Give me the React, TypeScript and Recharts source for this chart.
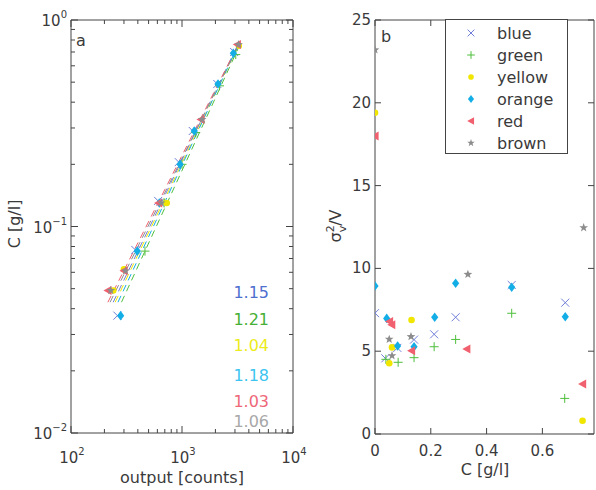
import React from 'react';
import { ScatterChart, Scatter, XAxis, YAxis } from 'recharts';

const FONT = '"DejaVu Sans", Verdana, sans-serif';
const INK = '#3a3a3a';
const AXIS = '#444444';

const seriesNames = ['blue', 'green', 'yellow', 'orange', 'red', 'brown'];
const markerColors: Record<string, string> = {
  blue: '#6f7ed8', green: '#4fbf3c', yellow: '#f0e600', orange: '#14aee6', red: '#f0606e', brown: '#8c8c8c',
};
const slopeColors: Record<string, string> = {
  blue: '#4f6fcf', green: '#45b035', yellow: '#ecec1c', orange: '#3cc4f0', red: '#ee6878', brown: '#a8a8a8',
};
const slopeLabels = ['1.15', '1.21', '1.04', '1.18', '1.03', '1.06'];

// ---------- Panel a : output [counts] vs C [g/l] ----------
const blueA = [
  { out: 262, c: 0.037 }, { out: 380, c: 0.077 }, { out: 610, c: 0.133 }, { out: 935, c: 0.205 },
  { out: 1250, c: 0.29 }, { out: 2080, c: 0.49 }, { out: 2950, c: 0.7 },
];
const greenA = [
  { out: 464, c: 0.076 }, { out: 690, c: 0.13 }, { out: 1000, c: 0.2 }, { out: 1330, c: 0.285 },
  { out: 2180, c: 0.48 }, { out: 3050, c: 0.68 },
];
const yellowA = [
  { out: 240, c: 0.049 }, { out: 300, c: 0.062 }, { out: 728, c: 0.13 }, { out: 3250, c: 0.75 },
];
const orangeA = [
  { out: 280, c: 0.037 }, { out: 395, c: 0.076 }, { out: 625, c: 0.13 }, { out: 960, c: 0.2 },
  { out: 1290, c: 0.29 }, { out: 2110, c: 0.49 }, { out: 2900, c: 0.69 },
];
const redA = [
  { out: 215, c: 0.049 }, { out: 300, c: 0.061 }, { out: 615, c: 0.13 }, { out: 1480, c: 0.33 }, { out: 3150, c: 0.76 },
];
const brownA = [
  { out: 228, c: 0.049 }, { out: 310, c: 0.061 }, { out: 650, c: 0.13 }, { out: 1520, c: 0.33 }, { out: 3230, c: 0.76 },
];
// fitted power-law lines (end points)
const blueFit = [{ out: 240, c: 0.043 }, { out: 3150, c: 0.75 }];
const greenFit = [{ out: 285, c: 0.043 }, { out: 3250, c: 0.74 }];
const yellowFit = [{ out: 250, c: 0.043 }, { out: 3250, c: 0.76 }];
const orangeFit = [{ out: 265, c: 0.043 }, { out: 3150, c: 0.74 }];
const redFit = [{ out: 215, c: 0.043 }, { out: 3200, c: 0.76 }];
const brownFit = [{ out: 225, c: 0.043 }, { out: 3250, c: 0.76 }];

const logXTicks = [100, 200, 300, 400, 500, 600, 700, 800, 900, 1000, 2000, 3000, 4000, 5000, 6000, 7000, 8000, 9000, 10000];
const logYTicks = [0.01, 0.02, 0.03, 0.04, 0.05, 0.06, 0.07, 0.08, 0.09, 0.1, 0.2, 0.3, 0.4, 0.5, 0.6, 0.7, 0.8, 0.9, 1];

// ---------- Panel b : sigma_v^2/V vs C [g/l] ----------
const blueB = [
  { c: 0, v: 7.3 }, { c: 0.037, v: 4.57 }, { c: 0.08, v: 5.2 }, { c: 0.14, v: 5.7 }, { c: 0.212, v: 6.02 },
  { c: 0.289, v: 7.05 }, { c: 0.49, v: 9.0 }, { c: 0.682, v: 7.93 },
];
const greenB = [
  { c: 0.039, v: 4.51 }, { c: 0.083, v: 4.33 }, { c: 0.14, v: 4.61 }, { c: 0.212, v: 5.27 },
  { c: 0.289, v: 5.71 }, { c: 0.49, v: 7.29 }, { c: 0.68, v: 2.15 },
];
const yellowB = [
  { c: 0, v: 19.4 }, { c: 0.051, v: 4.27 }, { c: 0.061, v: 5.23 }, { c: 0.131, v: 6.88 }, { c: 0.744, v: 0.8 },
];
const orangeB = [
  { c: 0, v: 8.94 }, { c: 0.042, v: 6.98 }, { c: 0.081, v: 5.31 }, { c: 0.14, v: 5.27 }, { c: 0.214, v: 7.05 },
  { c: 0.289, v: 9.1 }, { c: 0.49, v: 8.86 }, { c: 0.682, v: 7.08 },
];
const redB = [
  { c: 0, v: 18.0 }, { c: 0.052, v: 6.8 }, { c: 0.06, v: 6.6 }, { c: 0.131, v: 5.03 }, { c: 0.329, v: 5.13 }, { c: 0.744, v: 3.02 },
];
const brownB = [
  { c: 0, v: 23.2 }, { c: 0.051, v: 5.72 }, { c: 0.061, v: 4.73 }, { c: 0.129, v: 5.88 }, { c: 0.333, v: 9.64 }, { c: 0.748, v: 12.46 },
];
const bXTicks = [0, 0.2, 0.4, 0.6];
const bYTicks = [0, 5, 10, 15, 20, 25];

const pointsA: Record<string, any[]> = { blue: blueA, green: greenA, yellow: yellowA, orange: orangeA, red: redA, brown: brownA };
const fitsA: Record<string, any[]> = { blue: blueFit, green: greenFit, yellow: yellowFit, orange: orangeFit, red: redFit, brown: brownFit };
const pointsB: Record<string, any[]> = { blue: blueB, green: greenB, yellow: yellowB, orange: orangeB, red: redB, brown: brownB };

// ---------- markers ----------
function Marker({ name, cx, cy, s = 1 }: { name: string; cx: number; cy: number; s?: number }) {
  const col = markerColors[name];
  if (cx == null || cy == null || isNaN(cx) || isNaN(cy)) return <g />;
  switch (name) {
    case 'blue': {
      const r = 4 * s;
      return (
        <g stroke={col} strokeWidth={1}>
          <line x1={cx - r} y1={cy - r} x2={cx + r} y2={cy + r} />
          <line x1={cx - r} y1={cy + r} x2={cx + r} y2={cy - r} />
        </g>
      );
    }
    case 'green': {
      const r = 4.5 * s;
      return (
        <g stroke={col} strokeWidth={1}>
          <line x1={cx - r} y1={cy} x2={cx + r} y2={cy} />
          <line x1={cx} y1={cy - r} x2={cx} y2={cy + r} />
        </g>
      );
    }
    case 'yellow':
      return <circle cx={cx} cy={cy} r={3.3 * s} fill={col} />;
    case 'orange': {
      const h = 4.8 * s, w = 3.6 * s;
      return <polygon points={`${cx},${cy - h} ${cx + w},${cy} ${cx},${cy + h} ${cx - w},${cy}`} fill={col} />;
    }
    case 'red': {
      const r = 4.5 * s;
      return <polygon points={`${cx - r},${cy} ${cx + r * 0.8},${cy - r} ${cx + r * 0.8},${cy + r}`} fill={col} />;
    }
    default: {
      const R = 4.6 * s, rr = 1.9 * s;
      const pts: string[] = [];
      for (let i = 0; i < 10; i++) {
        const a = -Math.PI / 2 + (i * Math.PI) / 5;
        const rad = i % 2 === 0 ? R : rr;
        pts.push(`${cx + rad * Math.cos(a)},${cy + rad * Math.sin(a)}`);
      }
      return <polygon points={pts.join(' ')} fill={col} />;
    }
  }
}

const isMajor = (v: number) => Math.abs(Math.log10(v) - Math.round(Math.log10(v))) < 1e-9;

function Pow10({ x, y, e, anchor }: { x: number; y: number; e: number; anchor: string }) {
  const expo = e < 0 ? `\u2212${-e}` : `${e}`;
  return (
    <text x={x} y={y} textAnchor={anchor} fontSize={15} fill={INK} fontFamily={FONT}>
      10<tspan dy={-8} fontSize={10}>{expo}</tspan>
    </text>
  );
}

const MAJ = 7;
const MIN = 4;

// tick renderers for panel a
const BottomLogTick = (p: any) => {
  const v = p.payload.value;
  const major = isMajor(v);
  return (
    <g>
      <path d={`M${p.x},${p.y}V${p.y - (major ? MAJ : MIN)}`} stroke={AXIS} strokeWidth={1} fill="none" />
      {major && <Pow10 x={p.x + 1} y={p.y + 30} e={Math.round(Math.log10(v))} anchor="middle" />}
    </g>
  );
};
const TopLogTick = (p: any) => {
  const major = isMajor(p.payload.value);
  return <path d={`M${p.x},${p.y}V${p.y + (major ? MAJ : MIN)}`} stroke={AXIS} strokeWidth={1} fill="none" />;
};
const LeftLogTick = (p: any) => {
  const v = p.payload.value;
  const major = isMajor(v);
  return (
    <g>
      <path d={`M${p.x},${p.y}H${p.x + (major ? MAJ : MIN)}`} stroke={AXIS} strokeWidth={1} fill="none" />
      {major && <Pow10 x={p.x - 4} y={p.y + 6} e={Math.round(Math.log10(v))} anchor="end" />}
    </g>
  );
};
const RightLogTick = (p: any) => {
  const major = isMajor(p.payload.value);
  return <path d={`M${p.x},${p.y}H${p.x - (major ? MAJ : MIN)}`} stroke={AXIS} strokeWidth={1} fill="none" />;
};

// tick renderers for panel b
const BottomLinTick = (p: any) => (
  <g>
    <path d={`M${p.x},${p.y}V${p.y - 6}`} stroke={AXIS} strokeWidth={1} fill="none" />
    <text x={p.x} y={p.y + 22} textAnchor="middle" fontSize={15} fill={INK} fontFamily={FONT}>{p.payload.value}</text>
  </g>
);
const TopLinTick = (p: any) => <path d={`M${p.x},${p.y}V${p.y + 6}`} stroke={AXIS} strokeWidth={1} fill="none" />;
const LeftLinTick = (p: any) => (
  <g>
    <path d={`M${p.x},${p.y}H${p.x + 6}`} stroke={AXIS} strokeWidth={1} fill="none" />
    <text x={p.x - 4} y={p.y + 5} textAnchor="end" fontSize={15} fill={INK} fontFamily={FONT}>{p.payload.value}</text>
  </g>
);
const RightLinTick = (p: any) => <path d={`M${p.x},${p.y}H${p.x - 6}`} stroke={AXIS} strokeWidth={1} fill="none" />;

const axisCommon = { tickSize: 0, tickMargin: 0, tickLine: false, axisLine: { stroke: AXIS, strokeWidth: 1 }, interval: 0 as const, allowDataOverflow: true };
const noShape = () => <g />;

function PanelA() {
  return (
    <ScatterChart width={310} height={490} margin={{ top: 19, right: 16, bottom: 0, left: 0 }}>
      <XAxis xAxisId="b" type="number" dataKey="out" scale="log" domain={[100, 10000]} ticks={logXTicks}
        orientation="bottom" height={57} tick={<BottomLogTick />} {...axisCommon} />
      <XAxis xAxisId="t" type="number" dataKey="out" scale="log" domain={[100, 10000]} ticks={logXTicks}
        orientation="top" height={1} tick={<TopLogTick />} {...axisCommon} />
      <YAxis yAxisId="l" type="number" dataKey="c" scale="log" domain={[0.01, 1]} ticks={logYTicks}
        orientation="left" width={71} tick={<LeftLogTick />} {...axisCommon} />
      <YAxis yAxisId="r" type="number" dataKey="c" scale="log" domain={[0.01, 1]} ticks={logYTicks}
        orientation="right" width={1} tick={<RightLogTick />} {...axisCommon} />
      <Scatter xAxisId="t" yAxisId="r" data={blueFit} isAnimationActive={false} shape={noShape} legendType="none" />
      {seriesNames.map((n) => (
        <Scatter key={'fit-' + n} xAxisId="b" yAxisId="l" data={fitsA[n]} isAnimationActive={false}
          line={{ stroke: markerColors[n], strokeWidth: 1, strokeDasharray: '7 5' }} shape={noShape} legendType="none" />
      ))}
      {seriesNames.map((n) => (
        <Scatter key={'pts-' + n} xAxisId="b" yAxisId="l" data={pointsA[n]} isAnimationActive={false}
          shape={(p: any) => <Marker name={n} cx={p.cx} cy={p.cy} />} legendType="none" />
      ))}
    </ScatterChart>
  );
}

function PanelB() {
  return (
    <ScatterChart width={286} height={490} margin={{ top: 19, right: 1, bottom: 0, left: 0 }}>
      <XAxis xAxisId="b" type="number" dataKey="c" domain={[0, 0.785]} ticks={bXTicks}
        orientation="bottom" height={56} tick={<BottomLinTick />} {...axisCommon} />
      <XAxis xAxisId="t" type="number" dataKey="c" domain={[0, 0.785]} ticks={bXTicks}
        orientation="top" height={1} tick={<TopLinTick />} {...axisCommon} />
      <YAxis yAxisId="l" type="number" dataKey="v" domain={[0, 25]} ticks={bYTicks}
        orientation="left" width={65} tick={<LeftLinTick />} {...axisCommon} />
      <YAxis yAxisId="r" type="number" dataKey="v" domain={[0, 25]} ticks={bYTicks}
        orientation="right" width={1} tick={<RightLinTick />} {...axisCommon} />
      <Scatter xAxisId="t" yAxisId="r" data={blueB} isAnimationActive={false} shape={noShape} legendType="none" />
      {seriesNames.map((n) => (
        <Scatter key={'b-' + n} xAxisId="b" yAxisId="l" data={pointsB[n]} isAnimationActive={false}
          shape={(p: any) => <Marker name={n} cx={p.cx} cy={p.cy} />} legendType="none" />
      ))}
    </ScatterChart>
  );
}

function Overlay() {
  const txt = { fontFamily: FONT, fill: INK } as const;
  const slopeY = [298, 325, 351, 381, 407, 427];
  return (
    <svg width={596} height={490} style={{ position: 'absolute', left: 0, top: 0, pointerEvents: 'none' }}>
      {/* panel a annotations */}
      <text x={76} y={46} fontSize={16} {...txt}>a</text>
      {seriesNames.map((n, i) => (
        <text key={n} x={269} y={slopeY[i]} textAnchor="end" fontSize={16} fontFamily={FONT} fill={slopeColors[n]}>
          {slopeLabels[i]}
        </text>
      ))}
      <text x={182} y={483} textAnchor="middle" fontSize={16} {...txt}>output [counts]</text>
      <text x={20} y={224} textAnchor="middle" fontSize={16} transform="rotate(-90 20 224)" {...txt}>C [g/l]</text>

      {/* panel b annotations */}
      <text x={381} y={42} fontSize={16} {...txt}>b</text>
      <text x={485} y={475} textAnchor="middle" fontSize={16} {...txt}>C [g/l]</text>
      <text x={341} y={226} textAnchor="middle" fontSize={16} transform="rotate(-90 341 226)" {...txt}>
        σ<tspan dy={-7} fontSize={11}>2</tspan><tspan dx={-7} dy={12} fontSize={11}>v</tspan><tspan dy={-5}>/V</tspan>
      </text>

      {/* legend */}
      <rect x={445.5} y={19.5} width={122} height={134} fill="#fff" stroke={AXIS} strokeWidth={1} />
      {seriesNames.map((n, i) => (
        <g key={'lg-' + n}>
          <Marker name={n} cx={471} cy={33 + i * 22} s={0.85} />
          <text x={497} y={38.5 + i * 22} fontSize={16} {...txt}>{n}</text>
        </g>
      ))}
    </svg>
  );
}

export default function App() {
  return (
    <div style={{ position: 'absolute', left: 0, top: 0, width: 596, height: 490, background: '#fff', overflow: 'hidden' }}>
      <div style={{ position: 'absolute', left: 0, top: 0 }}>
        <PanelA />
      </div>
      <div style={{ position: 'absolute', left: 310, top: 0 }}>
        <PanelB />
      </div>
      <Overlay />
    </div>
  );
}
